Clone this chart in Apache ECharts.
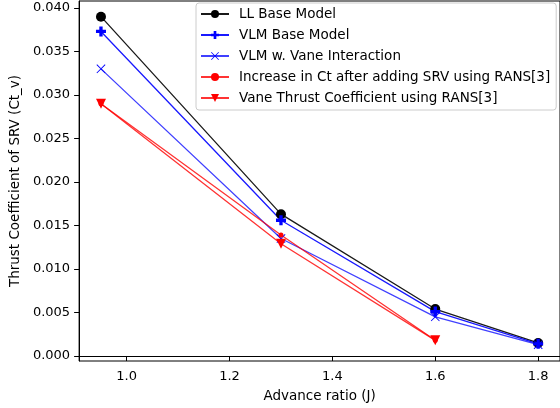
<!DOCTYPE html>
<html>
<head>
<meta charset="utf-8">
<script src="https://cdn.jsdelivr.net/npm/echarts@6/dist/echarts.min.js"></script>
<style>
  html, body { margin: 0; padding: 0; background: #fff; }
  #chart { width: 560px; height: 408px; }
</style>
</head>
<body>
<div id="chart"></div>
<script>
// Advance ratio J at which each model was evaluated
const advanceRatio = [0.95, 1.3, 1.6, 1.8];

// Thrust coefficient of the SRV (Ct_v) for each model
const llBase = [0.0390, 0.0163, 0.0054, 0.0015];
const vlmBase = [0.0373, 0.0156, 0.0051, 0.0014];
const vlmVane = [0.0330, 0.0135, 0.0045, 0.0013];
const ransIncrease = [0.0290, 0.0139, 0.0018];
const ransVane = [0.0290, 0.0129, 0.0018];

// Tick positions
const xTicks = [1.0, 1.2, 1.4, 1.6, 1.8];
const yTicks = [0.000, 0.005, 0.010, 0.015, 0.020, 0.025, 0.030, 0.035, 0.040];

const pairs = (xs, ys) => ys.map((y, i) => [xs[i], y]);

const plusSymbol = 'path://M-1,-3 L1,-3 L1,-1 L3,-1 L3,1 L1,1 L1,3 L-1,3 L-1,1 L-3,1 L-3,-1 L-1,-1 Z';
const crossSymbol = 'path://M-4.3,-5 L5,4.3 L4.3,5 L-5,-4.3 Z M4.3,-5 L5,-4.3 L-4.3,5 L-5,4.3 Z';
const triDownSymbol = 'path://M-1,-1 L1,-1 L0,1 Z';

const font = 'DejaVu Sans';

function lineSeries(name, data, color, symbol, size, opacity) {
  return {
    name: name,
    type: 'line',
    data: data,
    symbol: symbol,
    symbolSize: size,
    showAllSymbol: true,
    animation: false,
    lineStyle: { color: color, width: 1.3, opacity: opacity },
    itemStyle: { color: color, opacity: 1 },
    emphasis: { disabled: true }
  };
}

const chart = echarts.init(document.getElementById('chart'), null, { renderer: 'canvas' });
chart.setOption({
  backgroundColor: '#fff',
  animation: false,
  grid: {
    left: 79, top: 1, right: -3, bottom: 47,
    show: true, borderColor: '#000', borderWidth: 1, backgroundColor: 'transparent'
  },
  legend: {
    orient: 'vertical',
    left: 196, top: 3,
    padding: [4, 6, 5, 4],
    itemWidth: 28, itemHeight: 10, itemGap: 7,
    backgroundColor: 'rgba(255,255,255,0.8)',
    borderColor: '#cccccc', borderWidth: 1, borderRadius: 3,
    textStyle: { fontFamily: font, fontSize: 13.5, color: '#000', padding: [0, 0, 0, 5] },
    data: ['LL Base Model', 'VLM Base Model', 'VLM w. Vane Interaction',
           'Increase in Ct after adding SRV using RANS[3]', 'Vane Thrust Coefficient using RANS[3]']
  },
  xAxis: {
    type: 'value',
    min: 0.9075, max: 1.8425,
    name: 'Advance ratio (J)',
    nameLocation: 'middle', nameGap: 28,
    nameTextStyle: { fontFamily: font, fontSize: 13.5, color: '#000' },
    axisLine: { show: true, lineStyle: { color: '#000', width: 1 } },
    axisTick: { show: true, length: 5, lineStyle: { color: '#000' }, customValues: xTicks },
    axisLabel: {
      fontFamily: font, fontSize: 13, color: '#000', margin: 9,
      customValues: xTicks, formatter: v => v.toFixed(1)
    },
    splitLine: { show: false }
  },
  yAxis: {
    type: 'value',
    min: -0.000575, max: 0.0408,
    name: 'Thrust Coefficient of SRV (Ct_v)',
    nameLocation: 'middle', nameGap: 55,
    nameTextStyle: { fontFamily: font, fontSize: 13.5, color: '#000' },
    axisLine: { show: true, lineStyle: { color: '#000', width: 1 } },
    axisTick: { show: true, length: 5, lineStyle: { color: '#000' }, customValues: yTicks },
    axisLabel: {
      fontFamily: font, fontSize: 13, color: '#000', margin: 9,
      customValues: yTicks, formatter: v => v.toFixed(3)
    },
    splitLine: { show: false }
  },
  series: [
    lineSeries('LL Base Model', pairs(advanceRatio, llBase), '#000000', 'circle', 10, 0.9),
    lineSeries('VLM Base Model', pairs(advanceRatio, vlmBase), '#0000ff', plusSymbol, 10, 0.9),
    lineSeries('VLM w. Vane Interaction', pairs(advanceRatio, vlmVane), '#0000ff', crossSymbol, 9, 0.75),
    lineSeries('Increase in Ct after adding SRV using RANS[3]', pairs(advanceRatio, ransIncrease), '#ff0000', 'circle', 5, 0.8),
    lineSeries('Vane Thrust Coefficient using RANS[3]', pairs(advanceRatio, ransVane), '#ff0000', triDownSymbol, 10, 0.8)
  ]
});
</script>
</body>
</html>
